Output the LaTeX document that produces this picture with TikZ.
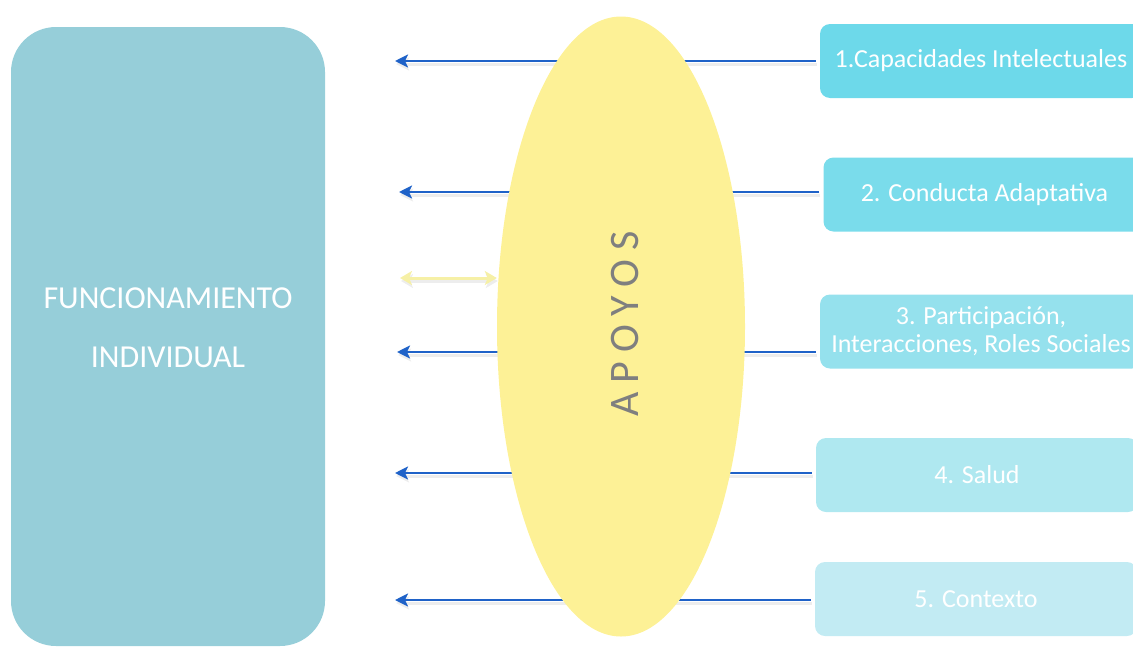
\documentclass[tikz,border=0pt]{standalone}
\usepackage{fontspec}
\setmainfont{Carlito}
\usetikzlibrary{shapes.geometric,arrows.meta,backgrounds}
\definecolor{leftc}{HTML}{96CED9}
\definecolor{yell}{HTML}{FDF196}
\definecolor{yarrow}{HTML}{F6F0A6}
\definecolor{arrowblue}{HTML}{1F62C8}
\definecolor{txtgray}{HTML}{7F7F7F}
\definecolor{cA}{HTML}{6DD9EA}
\definecolor{cB}{HTML}{7ADCEB}
\definecolor{cC}{HTML}{95E1ED}
\definecolor{cD}{HTML}{AFE8F0}
\definecolor{cE}{HTML}{C2EBF3}
\tikzset{
  leftbox/.style={draw=none, fill=leftc, rounded corners=45pt, minimum width=314pt, minimum height=619pt, inner sep=0pt},
  lefttext/.style={text=white, align=center, font=\fontsize{32}{59}\selectfont, inner sep=0pt},
  apoyo/.style={ellipse, fill=yell, minimum width=248pt, minimum height=620pt, inner sep=0pt},
  apoyotext/.style={rotate=90, text=txtgray, font=\fontsize{42}{46}\selectfont\addfontfeature{LetterSpace=22}, inner sep=0pt},
  rbox/.style={rounded corners=10pt, minimum width=322pt, minimum height=74pt, text=white, align=center, font=\fontsize{26}{28}\selectfont, inner sep=0pt},
  bluearrow/.style={draw=arrowblue, line width=2.4pt, -{Stealth[length=13pt,width=13pt,inset=3pt]}, shorten <=4pt,
    preaction={draw=black!7, line width=3pt, transform canvas={shift={(1pt,-3pt)}}}},
  yellowarrow/.style={draw=yarrow, line width=3pt, {Stealth[length=12pt,width=14pt,inset=3pt]}-{Stealth[length=12pt,width=14pt,inset=3pt]},
    preaction={draw=black!7, line width=3pt, transform canvas={shift={(1pt,-3pt)}}}}
}
\begin{document}
\begin{tikzpicture}[x=1pt,y=-1pt]
\useasboundingbox (0,0) rectangle (1133,646);
\clip (0,0) rectangle (1133,646);

\node[leftbox] (fi) at (168,336.5) {};
\node[lefttext] (fitxt) at (168,327.5) {FUNCIONAMIENTO\\INDIVIDUAL};

\node[apoyo] (ap) at (621,326.5) {};
\node[apoyotext] (aptxt) at (625,324) {APOYOS};

\node[rbox, fill=cA] (b1) at (981,61) {1.Capacidades Intelectuales};
\node[rbox, fill=cB] (b2) at (984.5,194.5) {2. Conducta Adaptativa};
\node[rbox, fill=cC] (b3) at (981,331.5) {3. Participación,\\Interacciones, Roles Sociales};
\node[rbox, fill=cD] (b4) at (977,475) {4. Salud};
\node[rbox, fill=cE] (b5) at (976,599) {5. Contexto};

\coordinate (a1) at (395,61);
\coordinate (a2) at (399,192);
\coordinate (a3) at (397,352);
\coordinate (a4) at (395,473);
\coordinate (a5) at (395,600);
\coordinate (y1) at (400,278);

\begin{scope}[on background layer]
\draw[bluearrow] (b1.west |- a1) -- (a1);
\draw[bluearrow] (b2.west |- a2) -- (a2);
\draw[bluearrow] (b3.west |- a3) -- (a3);
\draw[bluearrow] (b4.west |- a4) -- (a4);
\draw[bluearrow] (b5.west |- a5) -- (a5);
\end{scope}
\draw[yellowarrow] (y1) -- (ap.west |- y1);
\end{tikzpicture}
\end{document}
